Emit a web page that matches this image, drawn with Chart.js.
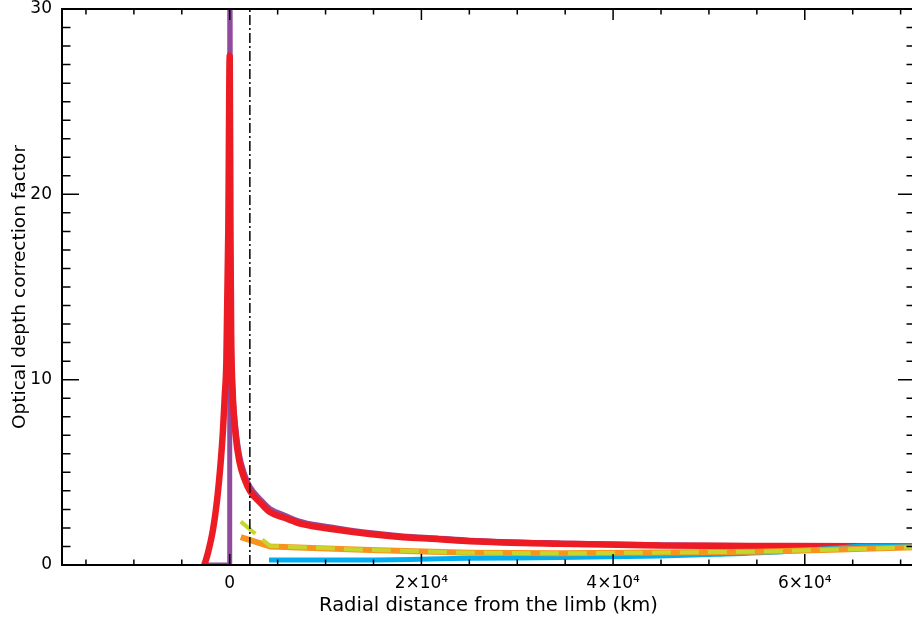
<!DOCTYPE html>
<html>
<head>
<meta charset="utf-8">
<script src="https://cdn.jsdelivr.net/npm/chart.js@4.4.1/dist/chart.umd.min.js"></script>
<style>
  html, body { margin: 0; padding: 0; background: #fff; overflow: hidden; }
  #wrap { position: relative; width: 916px; height: 622px; }
</style>
</head>
<body>
<div id="wrap"><canvas id="chart"></canvas></div>
<script>
// axis ticks
const xTickValues = [0, 20000, 40000, 60000];
const xTickLabels = ["0", "2×10⁴", "4×10⁴", "6×10⁴"];
const yTickValues = [0, 10, 20, 30];

// purple: step at the limb, then decay
const purpleKm  = [-2800, 0, 1, 80, 150, 300, 600, 1000, 1570, 2100, 3300, 4200, 5700, 7600, 11200, 14600, 18100, 21600, 25100, 34500, 44900, 57700, 71500];
const purpleVal = [0, 0, 40, 19, 13.2, 9.9, 7.6, 6.0, 4.9, 4.25, 3.5, 3.05, 2.7, 2.32, 2.0, 1.75, 1.57, 1.46, 1.34, 1.19, 1.09, 1.05, 1.02];

// red: smooth peak at the limb
const redKm  = [-2650, -2300, -1750, -1300, -950, -700, -520, -350, -150, 0, 80, 150, 300, 600, 1000, 1570, 2100, 3300, 4200, 5700, 7600, 11200, 14600, 18100, 21600, 25100, 34500, 44900, 57700, 71500];
const redVal = [0, 0.6, 1.9, 3.6, 5.5, 7.3, 9.1, 11.0, 18.0, 27.5, 17.5, 12.5, 9.4, 7.1, 5.6, 4.6, 4.0, 3.3, 2.85, 2.55, 2.2, 1.9, 1.67, 1.5, 1.4, 1.28, 1.14, 1.05, 1.02, 1.0];

// orange
const orangeKm  = [1150, 4200, 14600, 25000, 34500, 44900, 54900, 61900, 71500];
const orangeVal = [1.5, 1.0, 0.81, 0.66, 0.63, 0.67, 0.72, 0.81, 0.96];

// yellow-green dashed
const yellowKm  = [1150, 4200, 14600, 25000, 34500, 44900, 54900, 61900, 71500];
const yellowVal = [2.34, 1.03, 0.81, 0.66, 0.63, 0.67, 0.72, 0.81, 0.96];

// blue
const blueKm  = [4100, 14600, 25000, 34500, 44900, 50800, 57700, 63000, 66500, 71500];
const blueVal = [0.27, 0.27, 0.36, 0.40, 0.49, 0.58, 0.72, 0.90, 1.02, 1.02];

// vertical dash-dot marker
const markerKm = [2100, 2100];
const markerVal = [0, 30];

const pts = (xs, ys) => xs.map((x, i) => ({ x, y: ys[i] }));

const FAMILY = "'DejaVu Sans', sans-serif";

// ticks inside the frame on all four sides, like the original plot
const framePlugin = {
    id: 'frame',
    afterDatasetsDraw(chart) {
        const { ctx, chartArea: a, scales } = chart;
        const xs = scales.x, ys = scales.y;
        ctx.save();
        ctx.strokeStyle = '#000';
        ctx.lineWidth = 1.5;
        ctx.beginPath();
        for (let v = -15000; v <= 70000; v += 5000) {
            const px = xs.getPixelForValue(v);
            const len = (v % 20000 === 0) ? 11 : 5.5;
            ctx.moveTo(px, a.bottom); ctx.lineTo(px, a.bottom - len);
            ctx.moveTo(px, a.top); ctx.lineTo(px, a.top + len);
        }
        for (let v = 1; v < 30; v++) {
            const py = ys.getPixelForValue(v);
            const len = (v % 10 === 0) ? 17 : 8.5;
            ctx.moveTo(a.left, py); ctx.lineTo(a.left + len, py);
            ctx.moveTo(a.right, py); ctx.lineTo(a.right - len, py);
        }
        ctx.stroke();
        ctx.lineWidth = 2;
        ctx.strokeRect(a.left, a.top, a.right - a.left, a.bottom - a.top);
        ctx.restore();
    }
};

const line = (label, data, color, width, extra) => Object.assign({
    label, data,
    borderColor: color,
    backgroundColor: color,
    borderWidth: width,
    pointRadius: 0,
    tension: 0,
    fill: false,
    borderJoinStyle: 'round',
    borderCapStyle: 'butt'
}, extra || {});

new Chart(document.getElementById('chart'), {
    type: 'line',
    data: {
        // first dataset is drawn on top
        datasets: [
            line('limb', pts(markerKm, markerVal), '#000', 1.5, { borderDash: [10, 3, 2, 3] }),
            line('yellow', pts(yellowKm, yellowVal), '#C6D62D', 4, { borderDash: [19, 9] }),
            line('orange', pts(orangeKm, orangeVal), '#F7941E', 6),
            line('blue', pts(blueKm, blueVal), '#00AEEF', 5, { cubicInterpolationMode: 'monotone' }),
            line('red', pts(redKm, redVal), '#ED1C24', 6.5, { borderJoinStyle: 'bevel', cubicInterpolationMode: 'monotone' }),
            line('purple', pts(purpleKm, purpleVal), '#904B9E', 5, { borderJoinStyle: 'miter', cubicInterpolationMode: 'monotone' })
        ]
    },
    options: {
        responsive: true,
        maintainAspectRatio: false,
        animation: false,
        layout: { padding: { top: 0, right: 1, left: 0, bottom: 0 } },
        plugins: { legend: { display: false }, tooltip: { enabled: false } },
        scales: {
            x: {
                type: 'linear',
                min: -17500,
                max: 71500,
                grid: { display: false, drawTicks: false },
                border: { display: false },
                afterBuildTicks: (s) => { s.ticks = xTickValues.map(v => ({ value: v })); },
                afterFit: (s) => { s.height = 57; s.paddingLeft = 0; s.paddingRight = 0; },
                ticks: {
                    autoSkip: false,
                    maxRotation: 0,
                    padding: 8,
                    color: '#000',
                    font: { family: FAMILY, size: 17 },
                    callback: (v) => xTickLabels[xTickValues.indexOf(v)]
                },
                title: {
                    display: true,
                    text: 'Radial distance from the limb (km)',
                    color: '#000',
                    font: { family: FAMILY, size: 19.5 },
                    padding: { top: 0, bottom: 4 }
                }
            },
            y: {
                min: 0,
                max: 30,
                grid: { display: false, drawTicks: false },
                border: { display: false },
                afterBuildTicks: (s) => { s.ticks = yTickValues.map(v => ({ value: v })); },
                afterFit: (s) => { s.width = 62; s.paddingTop = 9; s.paddingBottom = 0; },
                ticks: {
                    padding: 10,
                    color: '#000',
                    font: { family: FAMILY, size: 17 },
                    callback: (v) => String(v)
                },
                title: {
                    display: true,
                    text: 'Optical depth correction factor',
                    color: '#000',
                    font: { family: FAMILY, size: 18.5 },
                    padding: { top: 9, bottom: 0 }
                }
            }
        }
    },
    plugins: [framePlugin]
});
</script>
</body>
</html>
